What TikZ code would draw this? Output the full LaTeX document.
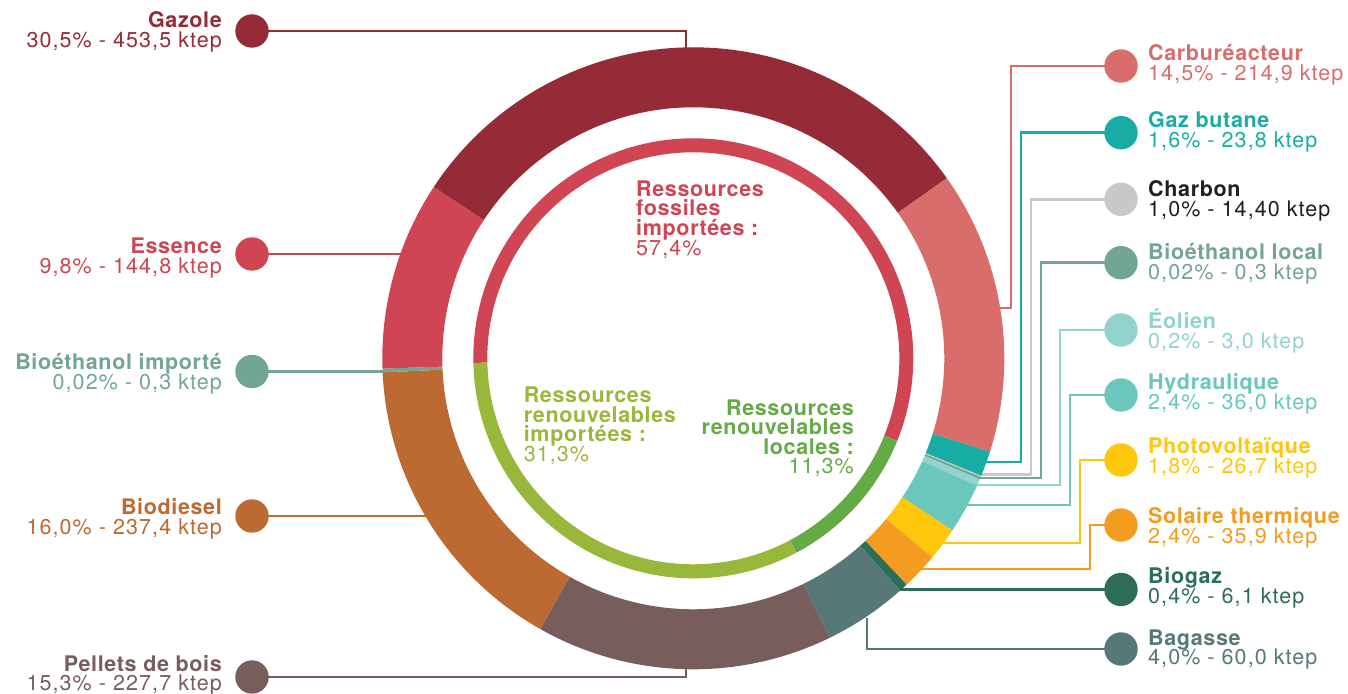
\documentclass[tikz,border=0pt]{standalone}
\usepackage{fontspec}
\setmainfont{TeX Gyre Heros}
\newfontfamily\ttlfam[LetterSpace=3]{TeX Gyre Heros}
\newfontfamily\valfam[LetterSpace=5]{TeX Gyre Heros}
\newcommand\ttlfont{\ttlfam\fontsize{21.5}{24}\selectfont\bfseries}
\newcommand\valfont{\valfam\fontsize{21.5}{24}\selectfont}
\definecolor{cGaz}{HTML}{952B37}
\definecolor{cEss}{HTML}{CF4553}
\definecolor{cCar}{HTML}{D86D6C}
\definecolor{cBut}{HTML}{17ADA4}
\definecolor{cCha}{HTML}{C8C8C9}
\definecolor{cChaT}{HTML}{231F20}
\definecolor{cBio}{HTML}{72A593}
\definecolor{cEol}{HTML}{93D3CD}
\definecolor{cHyd}{HTML}{6BC7BB}
\definecolor{cPV}{HTML}{FEC70C}
\definecolor{cSol}{HTML}{F39C1F}
\definecolor{cBgz}{HTML}{2E6E56}
\definecolor{cBag}{HTML}{577878}
\definecolor{cPel}{HTML}{785D5D}
\definecolor{cDie}{HTML}{BD6A32}
\definecolor{cLtG}{HTML}{99B83B}
\definecolor{cDkG}{HTML}{64AB45}
\newcommand\ringpart[5]{\fill[#5] ([shift={(O)}]#1:#4) arc[start angle=#1,end angle=#2,radius=#4] -- ([shift={(O)}]#2:#3) arc[start angle=#2,end angle=#1,radius=#3] -- cycle;}
\newcommand\leftlab[5]{\node[lab=#2,anchor=base east,font=\ttlfont] (#1T) at (222,#3) {#4};
  \node[lab=#2,anchor=base east,font=\valfont] (#1V) at (222,#3-19.8) {#5};}
\newcommand\rightlab[5]{\node[lab=#2,anchor=base west,font=\ttlfont] (#1T) at (1148,#3) {#4};
  \node[lab=#2,anchor=base west,font=\valfont] (#1V) at (1148,#3-19.8) {#5};}
\begin{document}
\begin{tikzpicture}[x=1pt,y=1pt,
  conn/.style={line width=2.9pt},
  dot/.style={circle,fill=#1,minimum size=33.4pt,inner sep=0pt,draw=none},
  lab/.style={inner sep=0pt,text=#1}]
\useasboundingbox (0,0) rectangle (1348,693);
\fill[white] (0,0) rectangle (1348,693);
\coordinate (O) at (693.3,334.7);
% circle centres
\coordinate (gazC) at (252,662);
\coordinate (essC) at (252,439);
\coordinate (bimC) at (252,321.5);
\coordinate (dieC) at (252,177);
\coordinate (pelC) at (252,16);
\coordinate (carC) at (1121,627);
\coordinate (butC) at (1121,560.3);
\coordinate (chaC) at (1121,493.7);
\coordinate (bloC) at (1121,430.3);
\coordinate (eolC) at (1121,363);
\coordinate (hydC) at (1121,298);
\coordinate (pvC) at (1121,233);
\coordinate (solC) at (1121,168);
\coordinate (bgzC) at (1121,103.5);
\coordinate (bagC) at (1121,44);
% connector bends and ends
\coordinate (gazJ) at (686,662); \coordinate (gazR) at (686,640);
\coordinate (essR) at (406,439);
\coordinate (bimR) at (392,321.5);
\coordinate (dieR) at (432,177);
\coordinate (pelJ) at (686,16); \coordinate (pelR) at (686,30);
\coordinate (carJ) at (1011,385); \coordinate (carR) at (995,385);
\coordinate (butJ) at (1021,231); \coordinate (butR) at (980,231);
\coordinate (chaJ) at (1031,218.3); \coordinate (chaR) at (975,218.3);
\coordinate (bloJ) at (1041,215); \coordinate (bloR) at (975,215);
\coordinate (eolJ) at (1060,208); \coordinate (eolR) at (968,208);
\coordinate (hydJ) at (1070,188); \coordinate (hydR) at (962,188);
\coordinate (pvJ) at (1080,150); \coordinate (pvR) at (938,150);
\coordinate (solJ) at (1090,124); \coordinate (solR) at (915,124);
\coordinate (bgzR) at (897,103.5);
\coordinate (bagR) at (867,75);
% connectors
\draw[conn,cGaz] (gazC) -- (gazJ) -- (gazR);
\draw[conn,cEss] (essC) -- (essR);
\draw[conn,cBio] (bimC) -- (bimR);
\draw[conn,cDie] (dieC) -- (dieR);
\draw[conn,cPel] (pelC) -- (pelJ) -- (pelR);
\draw[conn,cCar] (carC) -| (carJ) -- (carR);
\draw[conn,cBut] (butC) -| (butJ) -- (butR);
\draw[conn,cCha] (chaC) -| (chaJ) -- (chaR);
\draw[conn,cBio] (bloC) -| (bloJ) -- (bloR);
\draw[conn,cEol] (eolC) -| (eolJ) -- (eolR);
\draw[conn,cHyd] (hydC) -| (hydJ) -- (hydR);
\draw[conn,cPV] (pvC) -| (pvJ) -- (pvR);
\draw[conn,cSol] (solC) -| (solJ) -- (solR);
\draw[conn,cBgz] (bgzC) -- (bgzR);
\draw[conn,cBag] (bagC) -| (bagR);
% outer ring
\ringpart{146.6}{35.4}{251}{311}{cGaz}
\ringpart{35.4}{-17.5}{251}{311}{cCar}
\ringpart{-17.5}{-22.2}{251}{311}{cBut}
\ringpart{-22.2}{-22.45}{251}{311}{cCha}
\ringpart{-22.45}{-22.9}{251}{311}{cBio}
\ringpart{-22.9}{-24.2}{251}{311}{cEol}
\ringpart{-24.2}{-33.6}{251}{311}{cHyd}
\ringpart{-33.6}{-39.8}{251}{311}{cPV}
\ringpart{-39.8}{-46.7}{251}{311}{cSol}
\ringpart{-46.7}{-48.3}{251}{311}{cBgz}
\ringpart{-48.3}{-64}{251}{311}{cBag}
\ringpart{-64}{-119.5}{251}{311}{cPel}
\ringpart{-119.5}{-177.4}{251}{311}{cDie}
\ringpart{-177.4}{-178.1}{251}{311}{cBio}
\ringpart{-178.1}{-213.4}{251}{311}{cEss}
% inner ring
\ringpart{181.2}{-22}{206}{220}{cEss}
\ringpart{-22}{-62}{206}{220}{cDkG}
\ringpart{-62}{-178.8}{206}{220}{cLtG}
% dots
\node[dot=cGaz] (gazD) at (gazC) {};
\node[dot=cEss] (essD) at (essC) {};
\node[dot=cBio] (bimD) at (bimC) {};
\node[dot=cDie] (dieD) at (dieC) {};
\node[dot=cPel] (pelD) at (pelC) {};
\node[dot=cCar] (carD) at (carC) {};
\node[dot=cBut] (butD) at (butC) {};
\node[dot=cCha] (chaD) at (chaC) {};
\node[dot=cBio] (bloD) at (bloC) {};
\node[dot=cEol] (eolD) at (eolC) {};
\node[dot=cHyd] (hydD) at (hydC) {};
\node[dot=cPV] (pvD) at (pvC) {};
\node[dot=cSol] (solD) at (solC) {};
\node[dot=cBgz] (bgzD) at (bgzC) {};
\node[dot=cBag] (bagD) at (bagC) {};
% labels
\leftlab{gaz}{cGaz}{665.7}{Gazole}{30,5\% - 453,5 ktep}
\leftlab{ess}{cEss}{439.7}{Essence}{9,8\% - 144,8 ktep}
\leftlab{bim}{cBio}{323}{Bioéthanol importé}{0,02\% - 0,3 ktep}
\leftlab{die}{cDie}{178.7}{Biodiesel}{16,0\% - 237,4 ktep}
\leftlab{pel}{cPel}{22}{Pellets de bois}{15,3\% - 227,7 ktep}
\rightlab{car}{cCar}{632.3}{Carburéacteur}{14,5\% - 214,9 ktep}
\rightlab{but}{cBut}{565.7}{Gaz butane}{1,6\% - 23,8 ktep}
\rightlab{cha}{cChaT}{496.3}{Charbon}{1,0\% - 14,40 ktep}
\rightlab{blo}{cBio}{433}{Bioéthanol local}{0,02\% - 0,3 ktep}
\rightlab{eol}{cEol}{364.7}{Éolien}{0,2\% - 3,0 ktep}
\rightlab{hyd}{cHyd}{303.7}{Hydraulique}{2,4\% - 36,0 ktep}
\rightlab{pv}{cPV}{239}{Photovoltaïque}{1,8\% - 26,7 ktep}
\rightlab{sol}{cSol}{169.7}{Solaire thermique}{2,4\% - 35,9 ktep}
\rightlab{bgz}{cBgz}{109}{Biogaz}{0,4\% - 6,1 ktep}
\rightlab{bag}{cBag}{48}{Bagasse}{4,0\% - 60,0 ktep}
% centre labels
\node[lab=cEss,anchor=base west,font=\ttlfont] (fosA) at (636,496.8) {Ressources};
\node[lab=cEss,anchor=base west,font=\ttlfont] (fosB) at (636,477.2) {fossiles};
\node[lab=cEss,anchor=base west,font=\ttlfont] (fosC) at (636,457.6) {importées :};
\node[lab=cEss,anchor=base west,font=\valfont] (fosD) at (636,437.8) {57,4\%};
\node[lab=cLtG,anchor=base west,font=\ttlfont] (rimA) at (523.6,290.5) {Ressources};
\node[lab=cLtG,anchor=base west,font=\ttlfont] (rimB) at (523.6,270.7) {renouvelables};
\node[lab=cLtG,anchor=base west,font=\ttlfont] (rimC) at (523.6,251.4) {importées :};
\node[lab=cLtG,anchor=base west,font=\valfont] (rimD) at (523.6,231.6) {31,3\%};
\node[lab=cDkG,anchor=base east,font=\ttlfont] (rloA) at (854,277.9) {Ressources};
\node[lab=cDkG,anchor=base east,font=\ttlfont] (rloB) at (854,258.1) {renouvelables};
\node[lab=cDkG,anchor=base east,font=\ttlfont] (rloC) at (854,238.8) {locales :};
\node[lab=cDkG,anchor=base east,font=\valfont] (rloD) at (854,219) {11,3\%};
\end{tikzpicture}
\end{document}
